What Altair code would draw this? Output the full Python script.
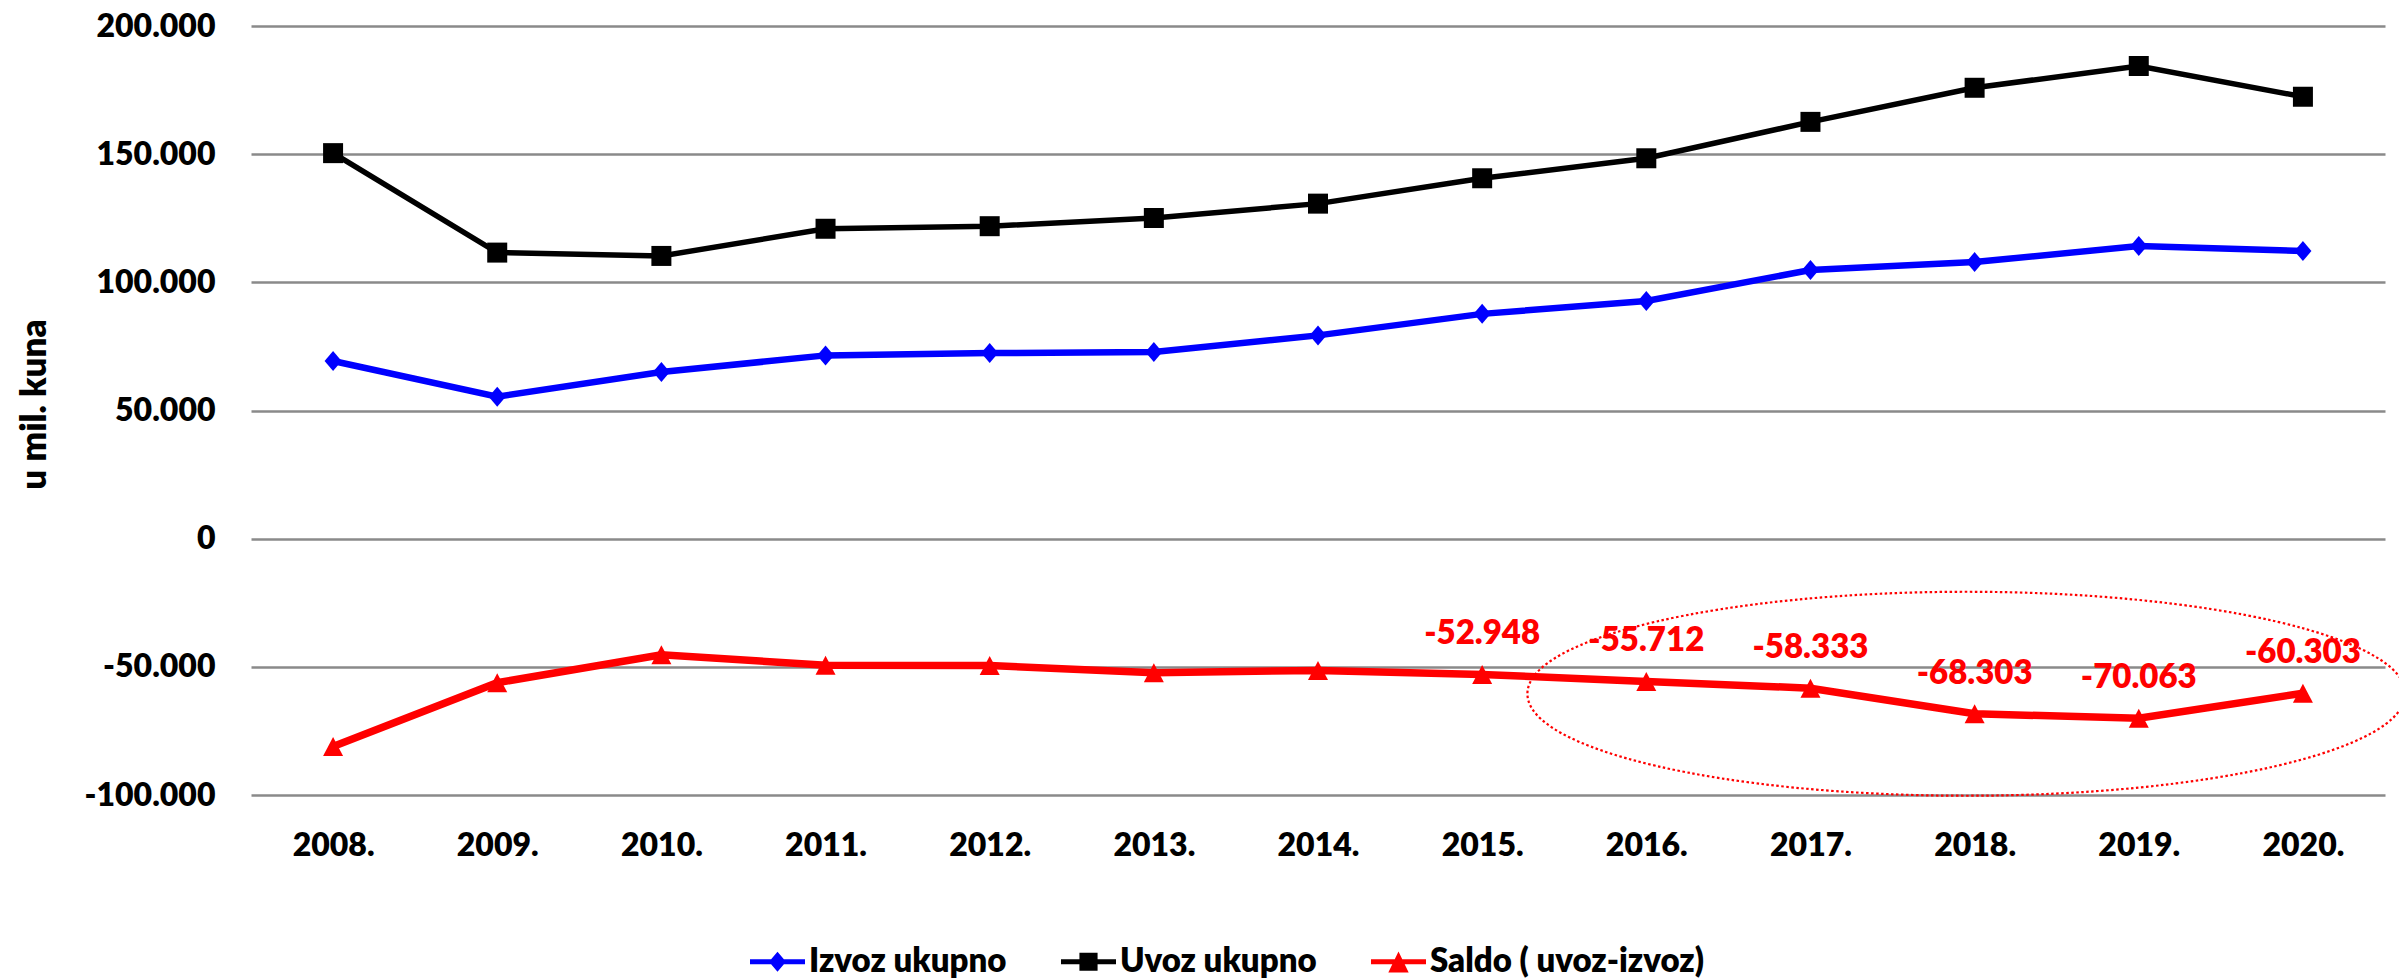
import altair as alt
import pandas as pd

# ---------------- data ----------------
years = [2008, 2009, 2010, 2011, 2012, 2013, 2014, 2015, 2016, 2017, 2018, 2019, 2020]
izvoz = [69300, 55400, 65000, 71500, 72400, 72800, 79300, 87700, 92700, 104800, 107900, 114200, 112200]
uvoz = [150400, 111600, 110300, 120900, 121900, 125100, 130700, 140600, 148400, 162600, 175900, 184400, 172400]
saldo = [-81100, -56200, -45300, -49400, -49500, -52300, -51400, -52948, -55712, -58333, -68303, -70063, -60303]

series_names = ["Izvoz ukupno", "Uvoz ukupno", "Saldo ( uvoz-izvoz)"]
series_colors = ["#0000FF", "#000000", "#FF0000"]
labeled_years = [2015, 2016, 2017, 2018, 2019, 2020]
y_ticks = [-100000, -50000, 0, 50000, 100000, 150000, 200000]

# highlight ellipse annotation (centre in data units)
ellipse_year = [2017.95]
ellipse_value = [-60500]

rows = []
for name, vals in zip(series_names, [izvoz, uvoz, saldo]):
    for yr, v in zip(years, vals):
        rows.append({"year": yr, "series": name, "value": v})
df = pd.DataFrame(rows)
df_ell = pd.DataFrame({"year": ellipse_year, "value": ellipse_value})

FONT = "Lato"
WEIGHT = 800
num_expr = "replace(replace(format(datum.value, ','), ',', '.'), '\u2212', '-')"

x_enc = alt.X(
    "year:Q",
    scale=alt.Scale(domain=[2007.5, 2020.5], nice=False, zero=False),
    axis=alt.Axis(
        values=years, labelExpr="format(datum.value, 'd') + '.'", grid=False,
        domain=False, ticks=False, tickSize=0, labelPadding=60,
        labelBaseline="alphabetic", labelFont=FONT, labelFontSize=32,
        labelFontWeight=WEIGHT, labelColor="black", title=None,
    ),
)
y_enc = alt.Y(
    "value:Q",
    scale=alt.Scale(domain=[-100000, 200000], nice=False),
    axis=alt.Axis(
        values=y_ticks, labelExpr=num_expr, grid=True, gridColor="#8a8a8a",
        gridWidth=2.3, domain=False, ticks=False, tickSize=0, labelPadding=36,
        labelFont=FONT, labelFontSize=32, labelFontWeight=WEIGHT, labelColor="black",
        title="u mil. kuna", titleFont=FONT, titleFontSize=35, titleFontWeight=WEIGHT,
        titleColor="black", titleAngle=270, titleX=-206, titleY=378, titleAlign="center",
        titleBaseline="alphabetic",
    ),
)

color_scale = alt.Scale(domain=series_names, range=series_colors)

# legend symbols: line with marker
P1 = "M-1,-0.09L1,-0.09L1,0.09L-1,0.09Z M0,-0.36L0.31,0L0,0.36L-0.31,0Z"
P2 = "M-1,-0.09L1,-0.09L1,0.09L-1,0.09Z M-0.33,-0.33L0.33,-0.33L0.33,0.33L-0.33,0.33Z"
P3 = "M-1,-0.09L1,-0.09L1,0.09L-1,0.09Z M0,-0.37L0.37,0.39L-0.37,0.39Z"

legend = alt.Legend(
    title=None, orient="none", legendX=499, legendY=908, direction="horizontal",
    symbolSize=3025, symbolStrokeWidth=0, symbolOpacity=1,
    labelFont=FONT, labelFontSize=33, labelFontWeight=WEIGHT, labelColor="black",
    labelOffset=4, columnPadding=54, labelLimit=1000,
)

base = alt.Chart(df)

diamond_path = "M0,-1L0.85,0L0,1L-0.85,0Z"
tri_path = "M0,-0.95L1,0.95L-1,0.95Z"
marker_shapes = [diamond_path, "square", tri_path]
line_widths = [6.5, 5.5, 7.5]

layers = []
for name, col, lw in zip(series_names, series_colors, line_widths):
    layers.append(
        base.transform_filter(alt.FieldEqualPredicate(field="series", equal=name))
        .mark_line(color=col, strokeWidth=lw)
        .encode(x=x_enc, y=y_enc)
    )
for name, col, shp in zip(series_names, series_colors, marker_shapes):
    layers.append(
        base.transform_filter(alt.FieldEqualPredicate(field="series", equal=name))
        .mark_point(filled=True, opacity=1, size=400, shape=shp, color=col, strokeWidth=0)
        .encode(x=x_enc, y=y_enc)
    )

legend_layer = base.transform_filter("datum.year < 0").mark_point(
    filled=True, opacity=1
).encode(
    x=x_enc, y=y_enc,
    color=alt.Color("series:N", scale=color_scale, legend=legend),
    shape=alt.Shape("series:N", scale=alt.Scale(domain=series_names, range=[P1, P2, P3]), legend=legend),
)

labels = base.transform_filter(
    alt.FieldEqualPredicate(field="series", equal=series_names[2])
).transform_filter(
    alt.FieldOneOfPredicate(field="year", oneOf=labeled_years)
).transform_calculate(
    label=num_expr
).mark_text(
    font=FONT, fontSize=33, fontWeight=WEIGHT, color="#FF0000",
    baseline="alphabetic", align="center", dy=-30,
).encode(x=x_enc, y=y_enc, text="label:N")

k = 0.5523
r = 0.2323
ell_path = (
    f"M1,0 C1,{k*r:.4f} {k},{r} 0,{r} C{-k},{r} -1,{k*r:.4f} -1,0 "
    f"C-1,{-k*r:.4f} {-k},{-r} 0,{-r} C{k},{-r} 1,{-k*r:.4f} 1,0Z"
)
ellipse = alt.Chart(df_ell).mark_point(
    shape=ell_path, size=878 * 878, filled=False, stroke="#FF0000",
    strokeWidth=2.2, strokeDash=[2.5, 2.5], opacity=1,
).encode(x=x_enc, y=y_enc)

chart = alt.layer(*layers, labels, ellipse, legend_layer).properties(
    width=2134, height=769,
    autosize=alt.AutoSizeParams(type="none"),
    padding={"left": 243, "top": 18, "right": 14, "bottom": 185},
    background="white",
).configure_view(stroke=None)

chart.save("out.html", embed_options={"renderer": "svg", "actions": False})
